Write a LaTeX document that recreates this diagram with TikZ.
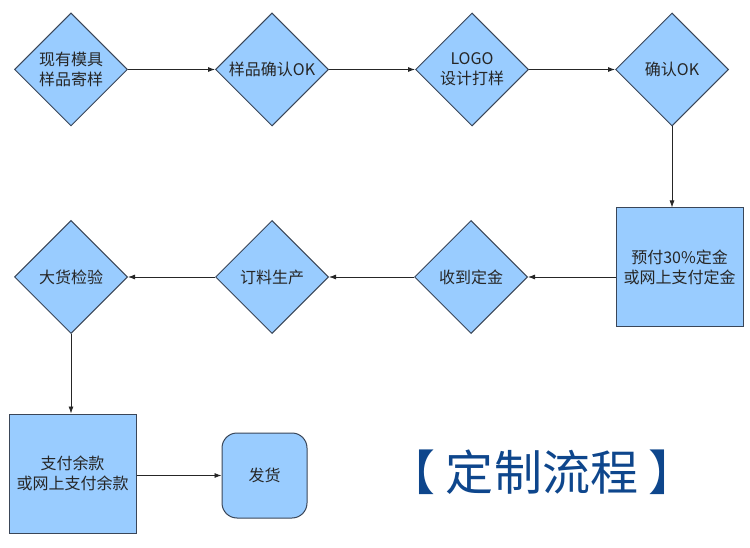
\documentclass[tikz,border=0pt]{standalone}
\usepackage{fontspec}
\setmainfont{Noto Sans CJK SC}
\usetikzlibrary{shapes.geometric,arrows.meta}
\definecolor{stepfill}{RGB}{153,204,255}
\definecolor{stepline}{RGB}{58,70,88}
\definecolor{titleblue}{RGB}{14,70,140}

\begin{document}
\begin{tikzpicture}[x=1pt, y=-1pt,
  dia/.style={diamond, draw=stepline, fill=stepfill, line width=1pt, minimum width=113pt, minimum height=113pt, inner sep=0pt, align=center, text=black!85, font=\fontsize{16}{20}\selectfont},
  box/.style={rectangle, draw=stepline, fill=stepfill, line width=1pt, minimum width=127pt, minimum height=#1, align=center, text=black!85, font=\fontsize{16}{20}\selectfont},
  flow/.style={-{Latex[length=7pt,width=5pt]}, line width=0.8pt, black!85}
]
\useasboundingbox (0,0) rectangle (750,548);

% Top row: sample and logo
\node[dia] (D1) at (71, 69.5) {现有模具\\样品寄样};
\node[dia] (D2) at (272, 69.5) {样品确认OK};
\node[dia] (D3) at (472, 69.5) {LOGO\\设计打样};
\node[dia] (D4) at (672, 69.5) {确认OK};

% Deposit
\node[box=118pt] (P1) at (679.5, 267) {预付30\%定金\\或网上支付定金};

% Middle row: production
\node[dia] (D5) at (471, 277) {收到定金};
\node[dia] (D6) at (272, 277) {订料生产};
\node[dia] (D7) at (71, 277) {大货检验};

% Bottom row: balance and shipping
\node[box=119pt] (P2) at (72.5, 473.5) {支付余款\\或网上支付余款};
\node[draw=stepline, fill=stepfill, line width=1pt, rounded corners=15pt, minimum width=85pt, minimum height=85pt, text=black!85, font=\fontsize{16}{20}\selectfont] (S1) at (264.5, 475.5) {发货};

% Title
\node[text=titleblue, font=\fontsize{48}{52}\selectfont] (T) at (542, 472) {【 定制流程 】};

% Connectors
\draw[flow] (D1.east) -- (D2.west);
\draw[flow] (D2.east) -- (D3.west);
\draw[flow] (D3.east) -- (D4.west);
\draw[flow] (D4.south) -- (D4.south |- P1.north);
\draw[flow] (D5.east -| P1.west) -- (D5.east);
\draw[flow] (D5.west) -- (D6.east);
\draw[flow] (D6.west) -- (D7.east);
\draw[flow] (D7.south) -- (D7.south |- P2.north);
\draw[flow] (P2.east |- S1.west) -- (S1.west);

\end{tikzpicture}
\end{document}
